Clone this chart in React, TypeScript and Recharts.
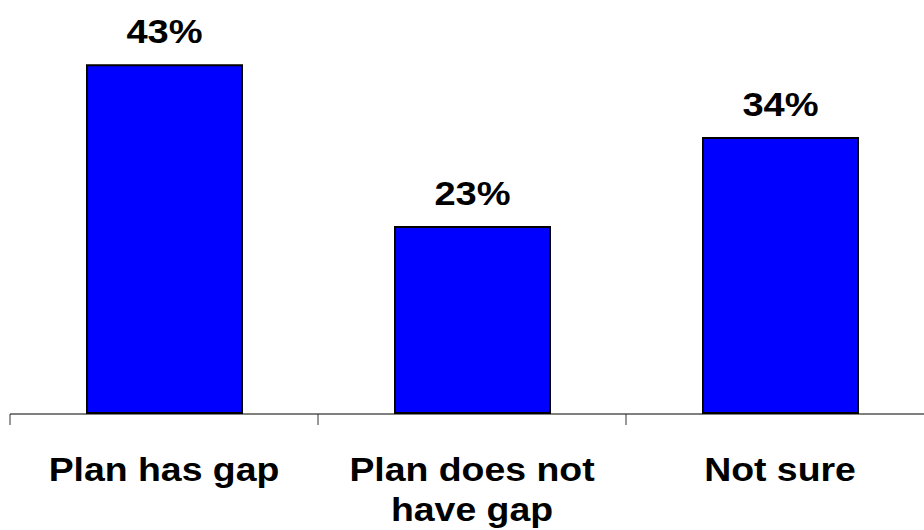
import { BarChart, Bar, XAxis, YAxis, LabelList } from "recharts";

const categories = ["Plan has gap", "Plan does not have gap", "Not sure"];
const values = [43, 23, 34];
const tickLabels = [["Plan has gap"], ["Plan does not", "have gap"], ["Not sure"]];
const boundaryTicks = [0, 1, 2, 3];

// slot = category index centre, used by the boundary-tick axis
const data = categories.map((name, i) => ({ name, value: values[i], slot: i + 0.5 }));

const FONT = "'Liberation Sans', Arial, sans-serif";

function CategoryTick(props: any) {
  const { x, y, index } = props;
  const lines = tickLabels[index] || [];
  return (
    <g>
      {lines.map((line, i) => (
        <text
          key={i}
          transform={`translate(${x},${y + 68 + i * 40}) scale(1.1,1)`}
          textAnchor="middle"
          fontFamily={FONT}
          fontWeight={700}
          fontSize={34}
          fill="#000"
        >
          {line}
        </text>
      ))}
    </g>
  );
}

function ValueLabel(props: any) {
  const { x, y, width, value } = props;
  return (
    <text
      transform={`translate(${x + width / 2},${y - 22}) scale(1.12,1)`}
      textAnchor="middle"
      fontFamily={FONT}
      fontWeight={700}
      fontSize={34}
      fill="#000"
    >
      {value}%
    </text>
  );
}

export default function App() {
  return (
    <div style={{ position: "absolute", left: 0, top: 0, width: 924, height: 530, overflow: "hidden", background: "#fff" }}>
      <BarChart width={940} height={530} data={data} margin={{ top: 8.5, right: 6, bottom: 115, left: 10 }}>
        <YAxis hide domain={[0, 50]} />
        {/* boundary ticks + axis line */}
        <XAxis
          xAxisId="edge"
          dataKey="slot"
          type="number"
          domain={[0, 3]}
          allowDataOverflow
          ticks={boundaryTicks}
          interval={0}
          height={1}
          tickSize={11}
          tick={() => <g />}
          stroke="#000"
          axisLine={{ stroke: "#000", strokeWidth: 1 }}
          tickLine={{ stroke: "#333", strokeWidth: 1 }}
        />
        <XAxis
          dataKey="name"
          height={1}
          axisLine={false}
          tickLine={false}
          tickSize={0}
          tickMargin={0}
          interval={0}
          tick={<CategoryTick />}
        />
        <Bar dataKey="value" fill="#0000FF" stroke="#000" strokeWidth={2} barSize={155} isAnimationActive={false}>
          <LabelList dataKey="value" content={<ValueLabel />} />
        </Bar>
      </BarChart>
    </div>
  );
}
